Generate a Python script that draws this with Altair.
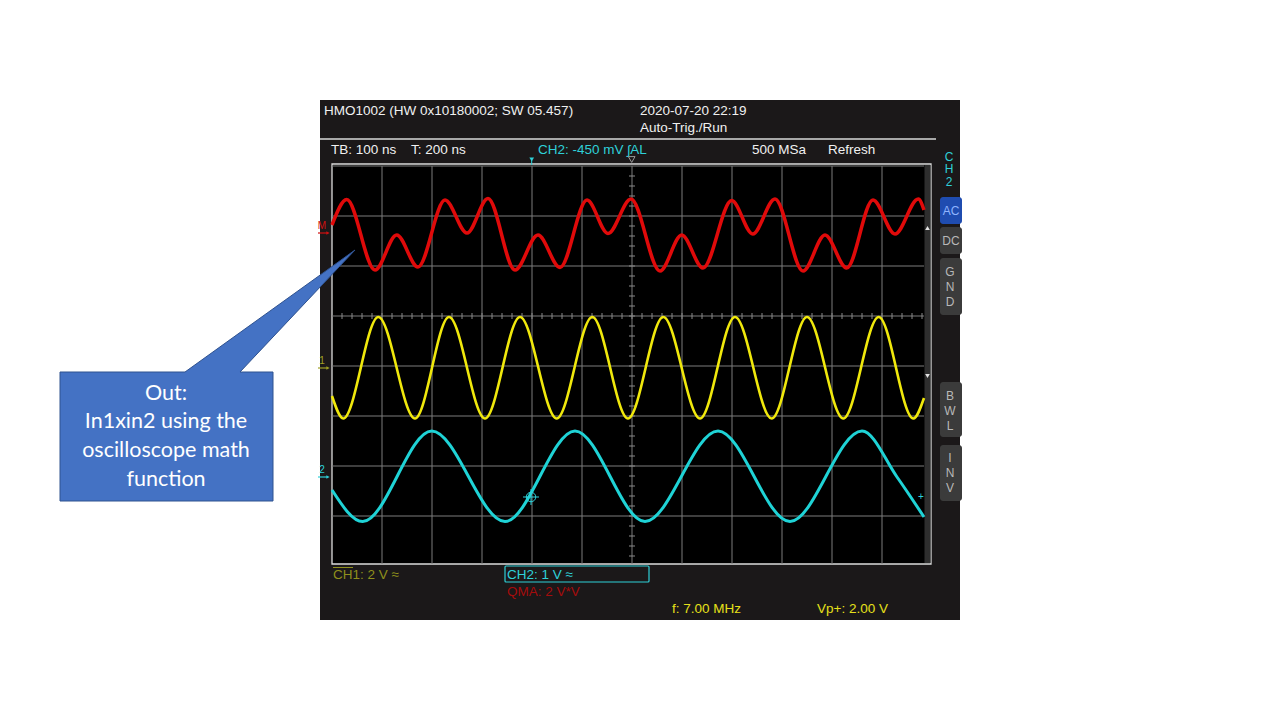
import altair as alt
import pandas as pd

# ---------------- data ----------------
# time in ns (TB 100 ns/div, 12 div), amplitude in screen divisions (0 = centre line)
red_t = [0, 29.4, 86, 129.4, 172, 226, 270, 312, 366, 412, 456, 510, 552, 598,
         656, 699.4, 742, 799.4, 841.4, 886, 942, 986, 1029.4, 1082, 1126, 1172.6, 1184]
red_v = [2.82, 3.33, 1.92, 2.62, 1.98, 3.32, 2.66, 3.35, 1.92, 2.62, 1.97, 3.32, 2.65, 3.34,
         1.90, 2.62, 1.96, 3.31, 2.64, 3.34, 1.90, 2.62, 1.96, 3.32, 2.64, 3.34, 3.12]

yellow_t = [0, 22.6, 92.6, 166, 234, 306, 376, 449.4, 520.6, 592, 662.6, 736, 806,
            879.4, 950, 1022.6, 1093.4, 1162.6, 1184]
yellow_v = [-0.60, -1.05, 0.98, -1.05, 0.98, -1.05, 0.98, -1.05, 0.98, -1.05, 0.98,
            -1.05, 0.98, -1.05, 0.98, -1.05, 0.98, -1.05, -0.64]

cyan_t = [0, 61.4, 199.4, 346, 486, 626, 772, 916, 1060, 1130, 1184]
cyan_v = [-2.48, -3.11, -1.30, -3.11, -1.30, -3.11, -1.30, -3.11, -1.30, -2.22, -3.02]

grid_t = [100, 200, 300, 400, 500, 600, 700, 800, 900, 1000, 1100]
grid_v = [-3, -2, -1, 0, 1, 2, 3, 4]

header_left = "HMO1002 (HW 0x10180002; SW 05.457)"
header_date = "2020-07-20 22:19"
header_mode = "Auto-Trig./Run"
status_tb = "TB: 100 ns"
status_t = "T: 200 ns"
status_trig = "CH2: -450 mV ʃAL"
status_rate = "500 MSa"
status_mode = "Refresh"
ch1_label = "CH1: 2 V ≈"
ch2_label = "CH2: 1 V ≈"
math_label = "QMA: 2 V*V"
meas_f = "f: 7.00 MHz"
meas_vp = "Vp+: 2.00 V"
callout_lines = ["Out:", "In1xin2 using the", "oscilloscope math", "function"]

# ---------------- layout helpers ----------------
OFF = 8
def px(v):
    return v - OFF

XS = alt.Scale(domain=[0, 1200], range=[px(332), px(932)])
YS = alt.Scale(domain=[-4, 4], range=[px(566), px(166)])
ONE = alt.InlineData(values=[{"k": 0}])
SF = "Liberation Sans"

def label(text, x, y, color, size=14, align="left", font=SF, baseline="middle"):
    return alt.Chart(ONE).mark_text(text=text, align=align, baseline=baseline, font=font,
                                    fontSize=size, color=color).encode(
        x=alt.value(px(x)), y=alt.value(px(y)))

def box(x0, y0, x1, y1, fill, stroke=None, sw=0, radius=0):
    mk = dict(fill=fill, cornerRadius=radius)
    if stroke:
        mk.update(stroke=stroke, strokeWidth=sw)
    else:
        mk.update(strokeWidth=0)
    return alt.Chart(ONE).mark_rect(**mk).encode(
        x=alt.value(px(x0)), x2=alt.value(px(x1)), y=alt.value(px(y0)), y2=alt.value(px(y1)))

def seg(x0, y0, x1, y1, color, sw=1):
    return alt.Chart(ONE).mark_rule(color=color, strokeWidth=sw).encode(
        x=alt.value(px(x0)), x2=alt.value(px(x1)), y=alt.value(px(y0)), y2=alt.value(px(y1)))

def sym(x, y, shape, size, color, filled=True, sw=1):
    mk = dict(shape=shape, size=size, opacity=1, filled=filled)
    if filled:
        mk.update(fill=color, strokeWidth=0)
    else:
        mk.update(stroke=color, strokeWidth=sw, fillOpacity=0)
    return alt.Chart(ONE).mark_point(**mk).encode(x=alt.value(px(x)), y=alt.value(px(y)))

def trace(t, v, color, width):
    df = pd.DataFrame({"t": t, "v": v})
    return alt.Chart(df).mark_line(color=color, strokeWidth=width, interpolate="monotone").encode(
        x=alt.X("t:Q", scale=XS, axis=None), y=alt.Y("v:Q", scale=YS, axis=None))

def marker(text, y, color):
    # channel reference marker: small label with an arrow underneath
    return [label(text, 322, y - 6, color, 10, align="center"),
            seg(318, y + 1, 327, y + 1, color, 1.2),
            sym(328, y + 1, "triangle-right", 14, color)]

layers = []

# scope panel
layers.append(box(320, 100, 960, 620, "#1b1819"))
layers.append(seg(320, 139, 936, 139, "#d8d8d8", 1.5))

# plot area (data coordinates)
plot_df = pd.DataFrame({"t0": [0], "t1": [1198], "v0": [-3.96], "v1": [4.04]})
layers.append(alt.Chart(plot_df).mark_rect(fill="#000000", stroke="#dcdcdc", strokeWidth=1.3).encode(
    x=alt.X("t0:Q", scale=XS, axis=None), x2="t1:Q",
    y=alt.Y("v0:Q", scale=YS, axis=None), y2="v1:Q"))
strip_df = pd.DataFrame({"t0": [1185], "t1": [1197], "v0": [-3.94], "v1": [4.02]})
layers.append(alt.Chart(strip_df).mark_rect(fill="#2e2e2e").encode(
    x=alt.X("t0:Q", scale=XS, axis=None), x2="t1:Q",
    y=alt.Y("v0:Q", scale=YS, axis=None), y2="v1:Q"))

# graticule
vg = pd.DataFrame({"t": grid_t, "a": -3.96, "b": 4.0})
layers.append(alt.Chart(vg).mark_rule(color="#7c7c7c", strokeWidth=1).encode(
    x=alt.X("t:Q", scale=XS, axis=None), y=alt.Y("a:Q", scale=YS, axis=None), y2="b:Q"))
hg = pd.DataFrame({"v": grid_v, "a": 0, "b": 1184})
layers.append(alt.Chart(hg).mark_rule(color="#7c7c7c", strokeWidth=1).encode(
    y=alt.Y("v:Q", scale=YS, axis=None), x=alt.X("a:Q", scale=XS, axis=None), x2="b:Q"))
# minor ticks on centre lines
ht = pd.DataFrame({"t": [i * 20 for i in range(1, 60)], "a": 0.94, "b": 1.06})
layers.append(alt.Chart(ht).mark_rule(color="#8a8a8a", strokeWidth=1).encode(
    x=alt.X("t:Q", scale=XS, axis=None), y=alt.Y("a:Q", scale=YS, axis=None), y2="b:Q"))
vt = pd.DataFrame({"v": [-3.8 + i * 0.2 for i in range(39)], "a": 594, "b": 606})
layers.append(alt.Chart(vt).mark_rule(color="#8a8a8a", strokeWidth=1).encode(
    y=alt.Y("v:Q", scale=YS, axis=None), x=alt.X("a:Q", scale=XS, axis=None), x2="b:Q"))

# traces
layers.append(trace(red_t, red_v, "#e00a0a", 3.5))
layers.append(trace(yellow_t, yellow_v, "#f0e80c", 2.6))
layers.append(trace(cyan_t, cyan_v, "#1fd3d6", 3))

# header texts
layers.append(label(header_left, 324, 111, "#f0f0f0", 13.5))
layers.append(label(header_date, 640, 111, "#f0f0f0", 13.5))
layers.append(label(header_mode, 640, 128, "#f0f0f0", 13.5))
layers.append(label(status_tb, 331, 150, "#f0f0f0", 13.5))
layers.append(label(status_t, 411, 150, "#f0f0f0", 13.5))
layers.append(label(status_trig, 538, 150, "#2fd0d8", 13.5))
layers.append(label(status_rate, 752, 150, "#f0f0f0", 13.5))
layers.append(label(status_mode, 828, 150, "#f0f0f0", 13.5))

# trigger markers
layers.append(sym(531.7, 159.5, "triangle-down", 22, "#2fd0d8"))
layers.append(seg(531.7, 160, 531.7, 165, "#2fd0d8", 1))
layers.append(sym(631.7, 159.5, "triangle-down", 45, "#9a9a9a", filled=False, sw=1))

# channel markers on the left
layers += marker("M", 232, "#d01010")
layers += marker("1", 367, "#a0a024")
layers += marker("2", 476, "#2fd0d8")

# right side markers
layers.append(sym(927.5, 228, "triangle-up", 22, "#e0e0e0"))
layers.append(sym(927.5, 376, "triangle-down", 22, "#e0e0e0"))
layers.append(label("+", 921, 497, "#2fd0d8", 10, align="center"))

# cursor crosshair
layers.append(sym(531, 497, "circle", 90, "#2fd0d8", filled=False, sw=1))
layers.append(sym(531, 497, "M -1 0 L 1 0 M 0 -1 L 0 1", 256, "#2fd0d8", filled=False, sw=1))

# right button column
layers.append(label("C", 949, 157, "#2fd0d8", 12, align="center"))
layers.append(label("H", 949, 169, "#2fd0d8", 12, align="center"))
layers.append(label("2", 949, 182, "#2fd0d8", 12, align="center"))
layers.append(box(940, 197, 962, 224, "#1f4cb0", radius=3))
layers.append(label("AC", 951, 211, "#8fb4ff", 12, align="center"))
layers.append(box(940, 227, 962, 254, "#3b3b3b", radius=3))
layers.append(label("DC", 951, 241, "#b8b8b8", 12, align="center"))
layers.append(box(940, 258, 962, 315, "#3b3b3b", radius=3))
for ch, yy in zip("GND", [272, 287, 302]):
    layers.append(label(ch, 950, yy, "#b8b8b8", 12, align="center"))
layers.append(box(940, 382, 962, 437, "#3b3b3b", radius=3))
for ch, yy in zip("BWL", [396, 411, 426]):
    layers.append(label(ch, 950, yy, "#b8b8b8", 12, align="center"))
layers.append(box(940, 445, 962, 501, "#3b3b3b", radius=3))
for ch, yy in zip("INV", [458, 473, 488]):
    layers.append(label(ch, 950, yy, "#b8b8b8", 12, align="center"))

# bottom texts
layers.append(label(ch1_label, 333, 575, "#8f8f1c", 13.5))
layers.append(seg(333, 567.5, 353, 567.5, "#8f8f1c", 1))
layers.append(box(505, 566, 649, 582, "transparent", stroke="#2fd0d8", sw=1.2, radius=1))
layers.append(label(ch2_label, 507, 575, "#2fd0d8", 13.5))
layers.append(label(math_label, 507, 592, "#a50c0c", 13.5))
layers.append(label(meas_f, 672, 609, "#e6e01a", 13.5))
layers.append(label(meas_vp, 817, 609, "#e6e01a", 13.5))

# callout (box + pointer as one shape, drawn in pixel units with size=4)
callout_path = ("M -106.5 -64.5 L 18.5 -64.5 L 188.5 -186.5 L 73.5 -64.5 L 106.5 -64.5 "
                "L 106.5 64.5 L -106.5 64.5 Z")
layers.append(alt.Chart(ONE).mark_point(shape=callout_path, size=4, filled=True, fill="#4472c4",
                                        stroke="#2f528f", strokeWidth=1, opacity=1).encode(
    x=alt.value(px(166.5)), y=alt.value(px(436.5))))
for txt, yy in zip(callout_lines, [394, 422, 451, 480]):
    layers.append(label(txt, 166, yy, "#ffffff", 21.5, align="center", font="Lato"))

chart = alt.layer(*layers).properties(
    width=1264, height=704, padding=0, autosize="none", background="#ffffff"
).configure_view(stroke=None)

chart.save("out.html", embed_options={"renderer": "svg", "actions": False})
